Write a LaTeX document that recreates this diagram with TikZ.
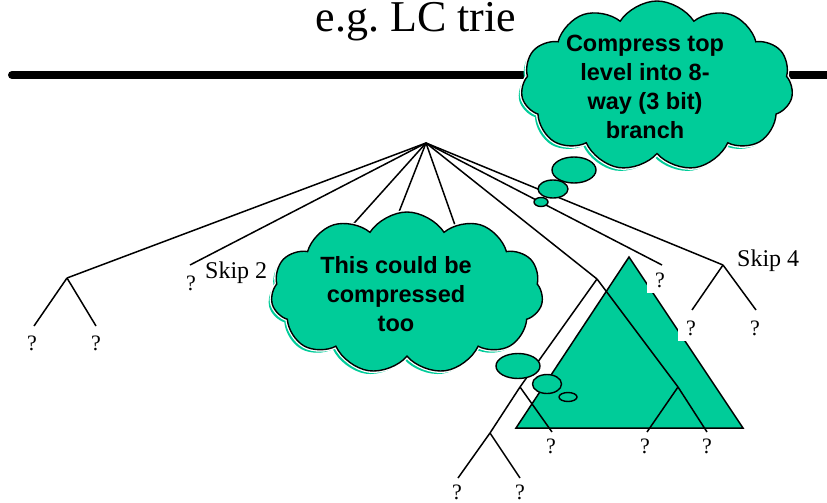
\documentclass[tikz,border=0pt]{standalone}
\usepackage{fontspec}
\setmainfont{Liberation Serif}
\newfontfamily\cloudfont{Liberation Sans}
\usetikzlibrary{shapes.symbols,shapes.geometric}
\definecolor{tgreen}{RGB}{0,204,153}
\begin{document}
\begin{tikzpicture}[x=1pt,y=-1pt,
  edge/.style={line width=1.5pt},
  qmark/.style={font=\fontsize{22}{24}\selectfont, fill=white, minimum width=27pt, minimum height=26pt, inner sep=0pt},
  skiplbl/.style={font=\fontsize{24}{26}\selectfont, inner sep=0pt},
  cloudbase/.style={cloud, cloud puffs=11, cloud puff arc=115, inner sep=0pt},
  bigcloud/.style={cloudbase, fill=tgreen, draw=black, line width=1.4pt, preaction={draw=white, line width=4pt}},
  cloudshadow/.style={cloudbase, fill=tgreen},
  bubble/.style={ellipse, fill=tgreen, draw=black, line width=1.4pt, inner sep=0pt},
  cloudtext/.style={font=\cloudfont\bfseries\fontsize{23.5}{29}\selectfont, align=center, inner sep=0pt}
]
\useasboundingbox (0,0) rectangle (827,503);

% title and rule
\node[anchor=base, inner sep=0pt, text height=29pt, font=\fontsize{44}{48}\selectfont] (title) at (416,31.5) {e.g.\ LC trie};
\coordinate (ruleL) at (12,75);
\coordinate (ruleR) at (840,75);
\draw[line width=8pt, line cap=round] (ruleL) -- (ruleR);

% triangle
\coordinate (tA) at (629,257);
\coordinate (tB) at (516,428);
\coordinate (tC) at (743,428);
\draw[fill=tgreen, line width=1.5pt, line join=miter] (tA) -- (tB) -- (tC) -- cycle;

% trie coordinates
\coordinate (root) at (426,143);
\coordinate (n1) at (67,278);
\coordinate (n1a) at (34,326);
\coordinate (n1b) at (96,326);
\coordinate (n2) at (190,265);
\coordinate (n3) at (330,250);
\coordinate (n4) at (388,240);
\coordinate (n5) at (462,245);
\coordinate (A) at (597,279);
\coordinate (B) at (520,387);
\coordinate (C) at (678,387);
\coordinate (D) at (490,433);
\coordinate (Ba) at (552,432);
\coordinate (Ca) at (647,432);
\coordinate (Cb) at (707,432);
\coordinate (Da) at (458,478);
\coordinate (Db) at (520,478);
\coordinate (n7) at (662,265);
\coordinate (n8) at (723,265);
\coordinate (n8a) at (692,310);
\coordinate (n8b) at (756,310);

\draw[edge] (root) -- (n1);
\draw[edge] (n1) -- (n1a);
\draw[edge] (n1) -- (n1b);
\draw[edge] (root) -- (n2);
\draw[edge] (root) -- (n3);
\draw[edge] (root) -- (n4);
\draw[edge] (root) -- (n5);
\draw[edge] (root) -- (A);
\draw[edge] (A) -- (B);
\draw[edge] (B) -- (D);
\draw[edge] (B) -- (Ba);
\draw[edge] (D) -- (Da);
\draw[edge] (D) -- (Db);
\draw[edge] (A) -- (C);
\draw[edge] (C) -- (Ca);
\draw[edge] (C) -- (Cb);
\draw[edge] (root) -- (n7);
\draw[edge] (root) -- (n8);
\draw[edge] (n8) -- (n8a);
\draw[edge] (n8) -- (n8b);

% leaf labels
\node[qmark] (q1) at (32,343) {?};
\node[qmark] (q2) at (96,343) {?};
\node[qmark] (q3) at (191,283) {?};
\node[qmark] (q4) at (660,280) {?};
\node[qmark] (q5) at (691,328) {?};
\node[qmark] (q6) at (755,328) {?};
\node[qmark] (q7) at (551,446) {?};
\node[qmark] (q8) at (645,446) {?};
\node[qmark] (q9) at (707,446) {?};
\node[qmark] (q10) at (457,492) {?};
\node[qmark] (q11) at (520,492) {?};

\node[skiplbl, anchor=base west] (skip2) at (205,278) {Skip 2};
\node[skiplbl, anchor=base west] (skip4) at (737,266) {Skip 4};

% bottom cloud
\node[cloudshadow, minimum width=272pt, minimum height=162pt] (c2s) at (404,296) {};
\node[bigcloud, minimum width=272pt, minimum height=162pt] (c2) at (407,293) {};
\node[cloudtext] (t2) at (396,294) {This could be\\compressed\\too};
\node[bubble, minimum width=44pt, minimum height=25pt] (b21) at (518,366) {};
\node[bubble, minimum width=29pt, minimum height=19pt] (b22) at (547,384) {};
\node[bubble, minimum width=18pt, minimum height=9pt] (b23) at (568,397) {};

% top cloud
\node[cloudshadow, minimum width=272pt, minimum height=170pt] (c1s) at (654,89) {};
\node[bigcloud, minimum width=272pt, minimum height=170pt] (c1) at (657,86) {};
\node[cloudtext] (t1) at (645,87) {Compress top\\level into 8-\\way (3 bit)\\branch};
\node[bubble, minimum width=44pt, minimum height=26pt] (b11) at (574,170) {};
\node[bubble, minimum width=30pt, minimum height=18pt] (b12) at (553,189) {};
\node[bubble, minimum width=14pt, minimum height=9pt] (b13) at (541,202) {};
\end{tikzpicture}
\end{document}
